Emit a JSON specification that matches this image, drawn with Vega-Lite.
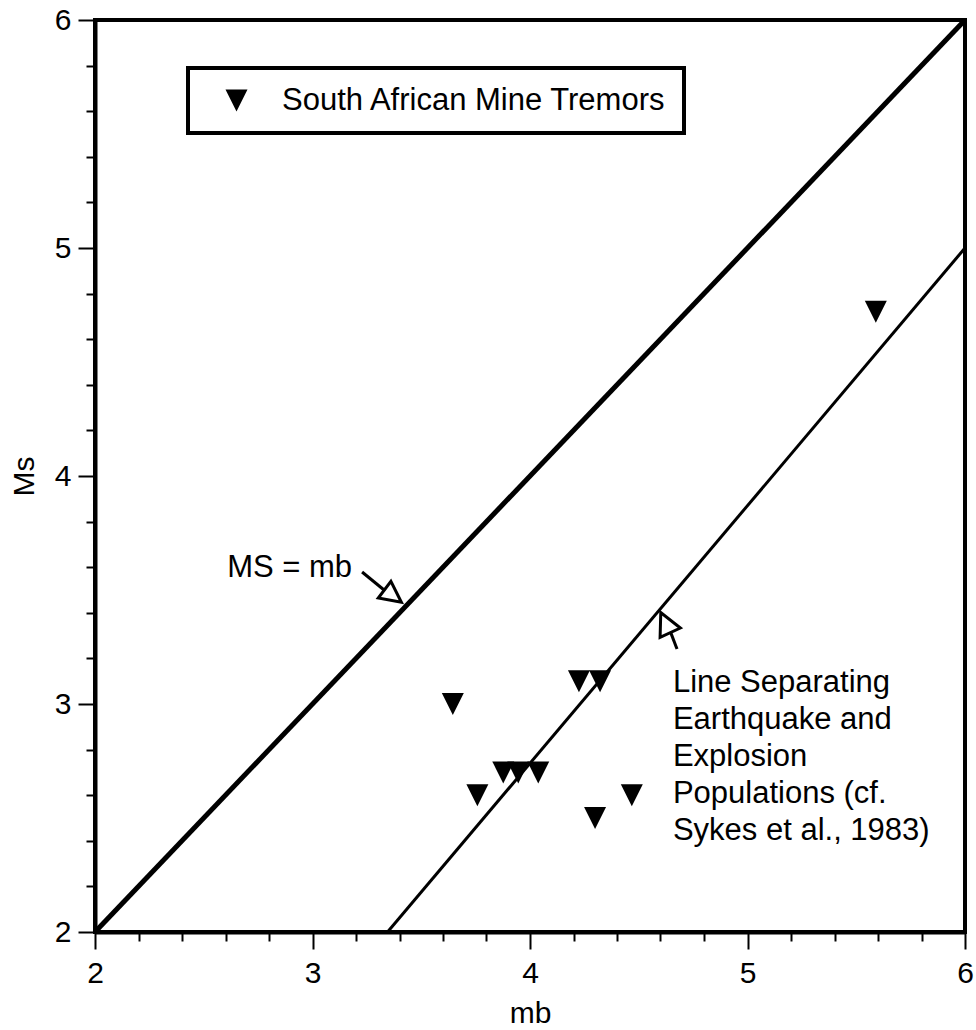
{
  "$schema": "https://vega.github.io/schema/vega-lite/v6.json",
  "width": 870,
  "height": 912,
  "autosize": {"type": "none"},
  "padding": {"left": 95, "top": 20, "right": 11, "bottom": 98},
  "background": "white",
  "config": {
    "view": {"stroke": "black", "strokeWidth": 4},
    "font": "Liberation Sans",
    "axis": {
      "grid": false,
      "domainColor": "black",
      "domainWidth": 4,
      "tickColor": "black",
      "tickWidth": 2,
      "labelFont": "Liberation Sans",
      "labelFontSize": 30,
      "labelColor": "black",
      "titleFont": "Liberation Sans",
      "titleFontSize": 30,
      "titleFontWeight": "normal",
      "titleColor": "black",
      "labelOverlap": false,
      "labelFlush": false
    },
    "legend": {
      "strokeColor": "black",
      "strokeWidth": 4,
      "fillColor": "white",
      "padding": 17,
      "symbolOffset": 16,
      "labelFont": "Liberation Sans",
      "labelFontSize": 31,
      "labelColor": "black",
      "labelOffset": 30,
      "labelLimit": 0,
      "symbolSize": 484,
      "symbolFillColor": "black",
      "symbolStrokeWidth": 0
    }
  },
  "encoding": {
    "x": {
      "field": "mb",
      "type": "quantitative",
      "scale": {"domain": [2, 6], "nice": false, "zero": false},
      "axis": {
        "title": "mb",
        "values": [2, 2.2, 2.4, 2.6, 2.8, 3, 3.2, 3.4, 3.6, 3.8, 4, 4.2, 4.4, 4.6, 4.8, 5, 5.2, 5.4, 5.6, 5.8, 6],
        "tickSize": {"condition": {"test": "abs(datum.value - round(datum.value)) < 0.01", "value": 17}, "value": 9},
        "labelExpr": "abs(datum.value - round(datum.value)) < 0.01 ? format(datum.value, 'd') : ''",
        "labelPadding": 9,
        "titlePadding": 10
      }
    },
    "y": {
      "field": "Ms",
      "type": "quantitative",
      "scale": {"domain": [2, 6], "nice": false, "zero": false},
      "axis": {
        "title": "Ms",
        "values": [2, 2.2, 2.4, 2.6, 2.8, 3, 3.2, 3.4, 3.6, 3.8, 4, 4.2, 4.4, 4.6, 4.8, 5, 5.2, 5.4, 5.6, 5.8, 6],
        "tickSize": {"condition": {"test": "abs(datum.value - round(datum.value)) < 0.01", "value": 17}, "value": 9},
        "labelExpr": "abs(datum.value - round(datum.value)) < 0.01 ? format(datum.value, 'd') : ''",
        "labelPadding": 7,
        "titlePadding": 15
      }
    }
  },
  "layer": [
    {
      "data": {"values": [{"mb": 2, "Ms": 2}, {"mb": 6, "Ms": 6}]},
      "mark": {"type": "line", "color": "black", "strokeWidth": 5, "strokeCap": "butt"},
      "encoding": {}
    },
    {
      "data": {"values": [{"mb": 3.345, "Ms": 2}, {"mb": 6, "Ms": 5.0}]},
      "mark": {"type": "line", "color": "black", "strokeWidth": 3, "strokeCap": "butt"},
      "encoding": {}
    },
    {
      "data": {"values": [
        {"arrow": "a", "mb": 3.228, "Ms": 3.579},
        {"arrow": "a", "mb": 3.329, "Ms": 3.50},
        {"arrow": "b", "mb": 4.648, "Ms": 3.311},
        {"arrow": "b", "mb": 4.676, "Ms": 3.241}
      ]},
      "mark": {"type": "line", "color": "black", "strokeWidth": 3},
      "encoding": {"detail": {"field": "arrow", "type": "nominal"}}
    },
    {
      "data": {"values": [{"mb": 3.370, "Ms": 3.474}]},
      "mark": {"type": "point", "shape": "M1,0L-1,-1L-1,1Z", "size": 441, "angle": 37, "filled": true, "fill": "white", "stroke": "black", "strokeWidth": 3, "opacity": 1}
    },
    {
      "data": {"values": [{"mb": 4.623, "Ms": 3.357}]},
      "mark": {"type": "point", "shape": "M1,0L-1,-1L-1,1Z", "size": 500, "angle": 245, "filled": true, "fill": "white", "stroke": "black", "strokeWidth": 3, "opacity": 1}
    },
    {
      "data": {"values": [
        {"series": "South African Mine Tremors", "mb": 5.59, "Ms": 4.72},
        {"series": "South African Mine Tremors", "mb": 3.645, "Ms": 3.0},
        {"series": "South African Mine Tremors", "mb": 4.225, "Ms": 3.10},
        {"series": "South African Mine Tremors", "mb": 4.322, "Ms": 3.10},
        {"series": "South African Mine Tremors", "mb": 3.758, "Ms": 2.60},
        {"series": "South African Mine Tremors", "mb": 3.877, "Ms": 2.70},
        {"series": "South African Mine Tremors", "mb": 3.946, "Ms": 2.70},
        {"series": "South African Mine Tremors", "mb": 4.038, "Ms": 2.70},
        {"series": "South African Mine Tremors", "mb": 4.468, "Ms": 2.60},
        {"series": "South African Mine Tremors", "mb": 4.299, "Ms": 2.50}
      ]},
      "mark": {"type": "point", "filled": true, "color": "black", "size": 484, "opacity": 1, "strokeWidth": 0},
      "encoding": {
        "shape": {
          "field": "series",
          "type": "nominal",
          "scale": {"domain": ["South African Mine Tremors"], "range": ["M-1,-1L1,-1L0,1Z"]},
          "legend": {"title": null, "orient": "none", "legendX": 93, "legendY": 48}
        }
      }
    },
    {
      "data": {"values": [{"mb": 3.182, "Ms": 3.557, "label": "MS = mb"}]},
      "mark": {"type": "text", "align": "right", "baseline": "alphabetic", "fontSize": 31, "font": "Liberation Sans", "color": "black"},
      "encoding": {"text": {"field": "label", "type": "nominal"}}
    },
    {
      "data": {"values": [{"mb": 4.657, "Ms": 3.053, "label": ["Line Separating", "Earthquake and", "Explosion", "Populations (cf.", "Sykes et al., 1983)"]}]},
      "mark": {"type": "text", "align": "left", "baseline": "alphabetic", "fontSize": 31, "lineHeight": 37, "font": "Liberation Sans", "color": "black"},
      "encoding": {"text": {"field": "label", "type": "nominal"}}
    }
  ]
}
